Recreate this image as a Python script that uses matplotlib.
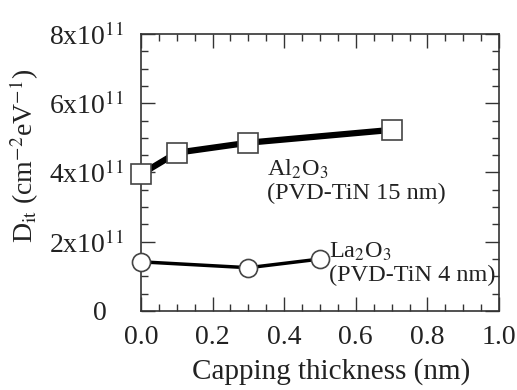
import matplotlib
matplotlib.use("Agg")
import matplotlib.pyplot as plt
from matplotlib.ticker import MultipleLocator, FixedLocator, FixedFormatter

plt.rcParams["font.family"] = ["Liberation Serif", "DejaVu Serif"]
plt.rcParams["mathtext.fontset"] = "stix"

# Al2O3 capping (PVD-TiN 15 nm)
al_x = [0.0, 0.1, 0.3, 0.7]
al_dit = [3.95e11, 4.57e11, 4.86e11, 5.23e11]

# La2O3 capping (PVD-TiN 4 nm)
la_x = [0.0, 0.3, 0.5]
la_dit = [1.42e11, 1.25e11, 1.50e11]

y_ticks = [0, 2e11, 4e11, 6e11, 8e11]
y_labels = ["0", "2x10$^{11}$", "4x10$^{11}$", "6x10$^{11}$", "8x10$^{11}$"]
x_ticks = [0.0, 0.2, 0.4, 0.6, 0.8, 1.0]

fig = plt.figure(figsize=(5.17, 3.90), dpi=100)
ax = fig.add_axes([0.2727, 0.2026, 0.6925, 0.7103])

ax.plot(al_x, al_dit, "-", color="black", linewidth=4.5, marker="s",
        markersize=14, markerfacecolor="white", markeredgecolor="#444444",
        markeredgewidth=1.2, zorder=3, clip_on=False)
ax.plot(la_x, la_dit, "-", color="black", linewidth=2.5, marker="o",
        markersize=13, markerfacecolor="white", markeredgecolor="#444444",
        markeredgewidth=1.2, zorder=3, clip_on=False)

ax.set_xlim(0, 1.0)
ax.set_ylim(0, 8e11)

ax.xaxis.set_major_locator(FixedLocator(x_ticks))
ax.xaxis.set_minor_locator(MultipleLocator(0.05))
ax.set_xticklabels([f"{v:.1f}" for v in x_ticks])
ax.yaxis.set_major_locator(FixedLocator(y_ticks))
ax.yaxis.set_major_formatter(FixedFormatter(y_labels))
ax.yaxis.set_minor_locator(MultipleLocator(0.5e11))

ax.tick_params(which="both", direction="in", top=True, right=True,
               color="#333333", width=1.0)
ax.tick_params(which="major", length=10, labelsize=20, labelcolor="#222222")
ax.tick_params(axis="x", which="major", pad=10)
ax.tick_params(axis="y", which="major", pad=12)
ax.tick_params(which="minor", length=5)
for s in ax.spines.values():
    s.set_linewidth(1.2)
    s.set_color("#333333")

# the zero label sits further left than the others
zero_lbl = ax.get_yticklabels()[0]
zero_lbl.set_x(-0.048)

ax.set_xlabel("Capping thickness (nm)", fontsize=21, color="#222222")
ax.xaxis.set_label_coords(0.53, -0.17)
ax.set_ylabel("D$_{\\rm it}$ (cm$^{-2}$eV$^{-1}$)", fontsize=20,
              color="#222222")
ax.yaxis.set_label_coords(-0.28, 0.56)

ax.text(0.352, 4.1e11, "Al$_2$O$_3$", fontsize=17.5, ha="left", va="center",
        color="#222222")
ax.text(0.352, 3.4e11, "(PVD-TiN 15 nm)", fontsize=17.5, ha="left",
        va="center", color="#222222")
ax.text(0.525, 1.7e11, "La$_2$O$_3$", fontsize=17.5, ha="left", va="center",
        color="#222222", clip_on=False)
ax.text(0.525, 1.04e11, "(PVD-TiN 4 nm)", fontsize=17.5, ha="left",
        va="center", color="#222222", clip_on=False, zorder=4)

fig.savefig("out.png", dpi=100)
